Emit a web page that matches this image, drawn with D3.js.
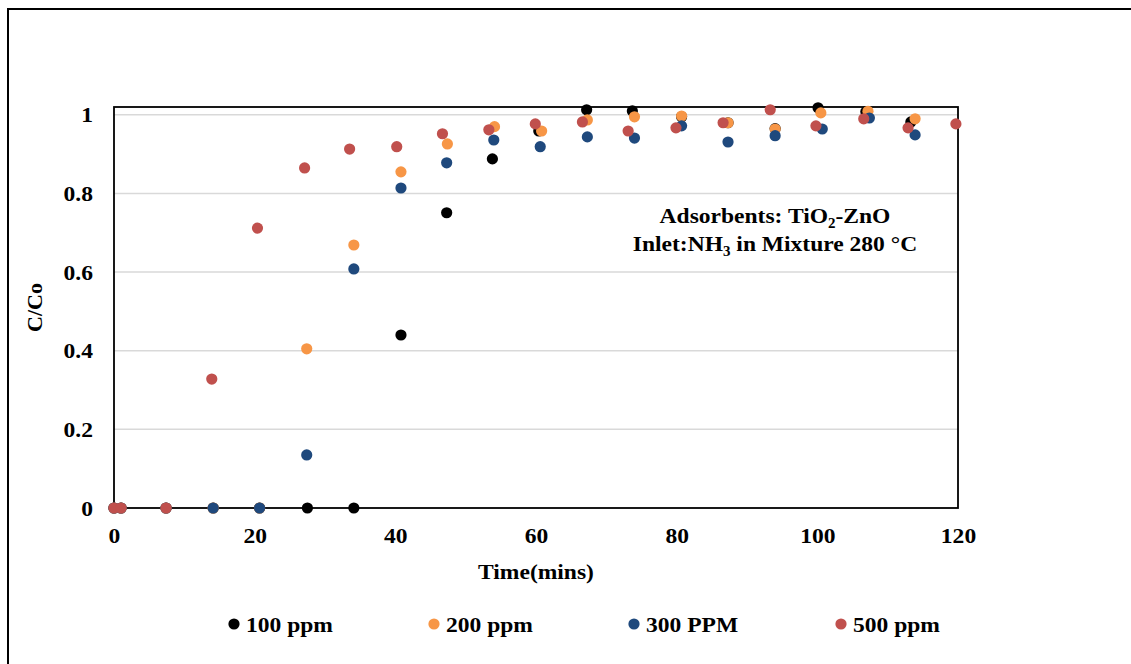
<!DOCTYPE html>
<html>
<head>
<meta charset="utf-8">
<style>
  html, body { margin: 0; padding: 0; background: #fff; }
  svg text { font-family: "Liberation Serif", "Times New Roman", serif; font-weight: 700; fill: #000; }
</style>
<script src="https://cdn.jsdelivr.net/npm/d3@7"></script>
</head>
<body>
<svg id="chart" width="1131" height="664"></svg>
<script>
/* breakthrough curves C/Co vs time, 4 inlet concentrations */
var SERIES = ['100 ppm', '200 ppm', '300 PPM', '500 ppm'];
var COLORS = ['#000000', '#f79646', '#1f497d', '#c0504d'];

var T100 = [0, 1, 7.4, 14.1, 20.7, 27.5, 34.1, 40.8, 47.3, 53.8, 60.4, 67.2, 73.7, 80.7, 87.3, 94, 100.1, 106.9, 113.3];
var V100 = [0, 0, 0, 0, 0, 0, 0, 0.44, 0.751, 0.888, 0.959, 1.013, 1.010, 0.995, 0.980, 0.965, 1.018, 1.008, 0.982];

var T200 = [0, 1, 7.4, 14.1, 20.7, 27.4, 34.1, 40.8, 47.4, 54.1, 60.8, 67.3, 74, 80.7, 87.3, 94, 100.5, 107.2, 113.9];
var V200 = [0, 0, 0, 0, 0, 0.405, 0.669, 0.855, 0.926, 0.970, 0.959, 0.987, 0.995, 0.997, 0.980, 0.964, 1.005, 1.009, 0.990];

var T300 = [0, 1, 7.4, 14.1, 20.7, 27.4, 34.1, 40.8, 47.3, 54, 60.6, 67.3, 74, 80.7, 87.3, 94, 100.7, 107.4, 113.9];
var V300 = [0, 0, 0, 0, 0, 0.135, 0.608, 0.814, 0.878, 0.936, 0.919, 0.944, 0.941, 0.972, 0.931, 0.947, 0.964, 0.992, 0.949];

var T500 = [0, 1, 7.4, 13.9, 20.4, 27.1, 33.5, 40.2, 46.7, 53.3, 59.9, 66.6, 73.1, 79.9, 86.6, 93.3, 99.8, 106.6, 112.9, 119.7];
var V500 = [0, 0, 0, 0.328, 0.712, 0.865, 0.913, 0.919, 0.952, 0.962, 0.977, 0.982, 0.959, 0.967, 0.980, 1.013, 0.972, 0.990, 0.967, 0.977];

var X_TICKS = [0, 20, 40, 60, 80, 100, 120];
var Y_TICKS = [0, 0.2, 0.4, 0.6, 0.8, 1];

(function () {
  var svg = d3.select('#chart');
  var L = 114, R = 958, TOP = 107, BOT = 508, FS = 22, SX = 1.07;
  var x = d3.scaleLinear().domain([0, 120]).range([L, R]);
  var y = d3.scaleLinear().domain([0, 1.02]).range([BOT, TOP]);

  // the source text is a bit wider than Liberation Serif: stretch around its anchor x
  function stretch(sel) {
    sel.each(function () {
      var ax = +this.getAttribute('x') || 0;
      d3.select(this).attr('transform', 'translate(' + ax + ',0) scale(' + SX + ',1) translate(' + (-ax) + ',0)');
    });
  }

  // outer frame (runs off right and bottom)
  svg.append('rect').attr('x', 8).attr('y', 9).attr('width', 1200).attr('height', 700)
    .attr('fill', 'none').attr('stroke', '#000').attr('stroke-width', 2);

  // gridlines
  svg.append('g').selectAll('line').data(Y_TICKS.filter(function (d) { return d > 0; })).enter().append('line')
    .attr('x1', L).attr('x2', R).attr('y1', function (d) { return y(d); }).attr('y2', function (d) { return y(d); })
    .attr('stroke', '#d9d9d9').attr('stroke-width', 1.5);

  // plot border + axes
  svg.append('rect').attr('x', L).attr('y', TOP).attr('width', R - L).attr('height', BOT - TOP)
    .attr('fill', 'none').attr('stroke', '#000').attr('stroke-width', 1.8);

  var yAxis = d3.axisLeft(y).tickValues(Y_TICKS).tickSize(0).tickPadding(21).tickFormat(function (d) { return d; });
  var gy = svg.append('g').attr('transform', 'translate(' + L + ',0)').call(yAxis);
  gy.select('.domain').remove();
  gy.selectAll('text').attr('font-size', FS).attr('font-family', '"Liberation Serif", serif').attr('font-weight', 700).call(stretch);

  var xAxis = d3.axisBottom(x).tickValues(X_TICKS).tickSize(0).tickPadding(19);
  var gx = svg.append('g').attr('transform', 'translate(0,' + BOT + ')').call(xAxis);
  gx.select('.domain').remove();
  gx.selectAll('text').attr('font-size', FS).attr('font-family', '"Liberation Serif", serif').attr('font-weight', 700).call(stretch);

  // points (series order: 100 first, 500 on top)
  var data = [[T100, V100], [T200, V200], [T300, V300], [T500, V500]];
  data.forEach(function (s, i) {
    svg.append('g').selectAll('circle').data(s[0].map(function (t, k) { return [t, s[1][k]]; })).enter().append('circle')
      .attr('cx', function (d) { return x(d[0]); }).attr('cy', function (d) { return y(d[1]); })
      .attr('r', 5.6).attr('fill', COLORS[i]);
  });

  // axis titles
  svg.append('text').attr('x', 536).attr('y', 579).attr('text-anchor', 'middle').attr('font-size', FS).text('Time(mins)').call(stretch);
  svg.append('text').attr('transform', 'translate(42,' + ((TOP + BOT) / 2) + ') rotate(-90)').attr('text-anchor', 'middle')
    .attr('font-size', FS).text('C/Co');

  // annotation
  var t1 = svg.append('text').attr('x', 775).attr('y', 223).attr('text-anchor', 'middle').attr('font-size', FS);
  t1.append('tspan').text('Adsorbents: TiO');
  t1.append('tspan').attr('font-size', 14).attr('dy', 5).text('2');
  t1.append('tspan').attr('dy', -5).text('-ZnO');
  var t2 = svg.append('text').attr('x', 775).attr('y', 251).attr('text-anchor', 'middle').attr('font-size', FS);
  t2.append('tspan').text('Inlet:NH');
  t2.append('tspan').attr('font-size', 14).attr('dy', 5).text('3');
  t2.append('tspan').attr('dy', -5).text(' in Mixture 280 °C');
  stretch(t1); stretch(t2);

  // legend
  var LEG_X = [234, 434, 634, 841];
  var lg = svg.append('g').selectAll('g').data(SERIES).enter().append('g')
    .attr('transform', function (d, i) { return 'translate(' + LEG_X[i] + ',624)'; });
  lg.append('circle').attr('r', 5.6).attr('fill', function (d, i) { return COLORS[i]; });
  lg.append('text').attr('x', 12).attr('y', 7.5).attr('font-size', FS).text(function (d) { return d; }).call(stretch);
})();
</script>
</body>
</html>
